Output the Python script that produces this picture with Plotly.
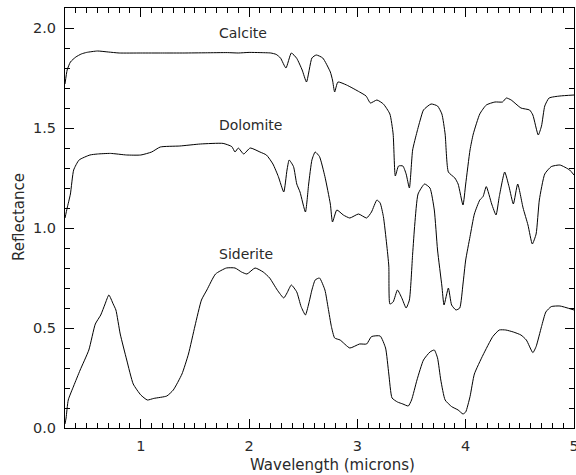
import plotly.graph_objects as go

calcite_x = [0.30,0.32,0.35,0.40,0.45,0.50,0.60,0.70,0.80,1.00,1.20,1.40,1.60,1.80,1.90,2.00,2.10,2.20,2.25,2.29,2.34,2.39,2.44,2.49,2.53,2.58,2.62,2.68,2.75,2.77,2.79,2.82,2.90,3.02,3.08,3.12,3.18,3.24,3.30,3.33,3.35,3.38,3.42,3.45,3.48,3.51,3.55,3.58,3.61,3.68,3.74,3.78,3.81,3.84,3.90,3.93,3.975,4.0,4.04,4.07,4.13,4.19,4.27,4.34,4.375,4.42,4.51,4.59,4.62,4.67,4.70,4.73,4.77,4.87,5.0]
calcite_y = [1.72,1.79,1.83,1.855,1.87,1.878,1.885,1.88,1.875,1.875,1.875,1.875,1.876,1.877,1.875,1.878,1.877,1.875,1.868,1.85,1.80,1.875,1.848,1.79,1.73,1.85,1.865,1.85,1.78,1.74,1.68,1.73,1.715,1.68,1.66,1.625,1.64,1.62,1.57,1.47,1.26,1.31,1.31,1.27,1.20,1.39,1.48,1.54,1.59,1.62,1.61,1.57,1.47,1.28,1.25,1.22,1.115,1.22,1.39,1.47,1.57,1.615,1.63,1.63,1.65,1.64,1.60,1.59,1.565,1.465,1.51,1.61,1.65,1.66,1.665]

dolomite_x = [0.30,0.32,0.35,0.38,0.43,0.53,0.60,0.72,0.87,1.00,1.10,1.18,1.36,1.55,1.76,1.84,1.87,1.90,1.95,2.01,2.10,2.16,2.22,2.27,2.32,2.35,2.37,2.41,2.44,2.47,2.52,2.55,2.58,2.61,2.65,2.70,2.75,2.77,2.81,2.87,2.93,3.01,3.085,3.13,3.18,3.21,3.24,3.27,3.29,3.30,3.33,3.37,3.41,3.45,3.48,3.51,3.53,3.56,3.62,3.67,3.71,3.74,3.78,3.80,3.84,3.87,3.91,3.945,3.975,4.0,4.04,4.08,4.13,4.16,4.19,4.24,4.28,4.31,4.36,4.40,4.44,4.48,4.53,4.575,4.615,4.65,4.68,4.73,4.79,4.87,4.96,5.0]
dolomite_y = [1.05,1.10,1.17,1.29,1.34,1.365,1.37,1.373,1.365,1.365,1.38,1.405,1.41,1.42,1.423,1.407,1.38,1.40,1.37,1.40,1.38,1.365,1.32,1.257,1.18,1.29,1.34,1.307,1.22,1.18,1.08,1.22,1.34,1.38,1.357,1.257,1.12,1.03,1.09,1.065,1.05,1.07,1.05,1.08,1.14,1.125,1.057,0.92,0.81,0.62,0.63,0.69,0.65,0.60,0.64,0.87,1.02,1.17,1.22,1.20,1.09,0.89,0.71,0.615,0.70,0.615,0.59,0.60,0.72,0.84,0.957,1.07,1.14,1.157,1.207,1.12,1.065,1.157,1.28,1.207,1.12,1.22,1.10,1.015,0.92,0.97,1.14,1.27,1.307,1.315,1.29,1.265]

siderite_x = [0.30,0.31,0.33,0.38,0.44,0.52,0.58,0.63,0.67,0.705,0.745,0.77,0.81,0.87,0.93,1.00,1.06,1.12,1.24,1.30,1.38,1.44,1.50,1.56,1.61,1.69,1.79,1.87,1.93,1.98,2.055,2.13,2.19,2.26,2.32,2.35,2.39,2.44,2.48,2.52,2.55,2.58,2.61,2.65,2.70,2.73,2.76,2.79,2.84,2.93,3.02,3.085,3.13,3.21,3.26,3.29,3.32,3.37,3.42,3.47,3.50,3.55,3.61,3.67,3.71,3.74,3.77,3.81,3.87,3.93,3.975,4.0,4.04,4.08,4.16,4.25,4.31,4.37,4.44,4.51,4.56,4.62,4.65,4.70,4.74,4.79,4.87,5.0]
siderite_y = [0.02,0.05,0.14,0.21,0.29,0.39,0.52,0.565,0.62,0.665,0.62,0.59,0.47,0.34,0.22,0.165,0.14,0.148,0.16,0.19,0.27,0.37,0.51,0.64,0.69,0.77,0.80,0.80,0.78,0.77,0.80,0.78,0.75,0.69,0.65,0.675,0.715,0.68,0.607,0.565,0.62,0.69,0.74,0.75,0.69,0.60,0.507,0.45,0.44,0.40,0.42,0.42,0.457,0.46,0.40,0.27,0.15,0.13,0.12,0.11,0.14,0.24,0.34,0.38,0.39,0.35,0.24,0.14,0.107,0.09,0.07,0.08,0.157,0.27,0.365,0.457,0.49,0.49,0.48,0.465,0.44,0.377,0.407,0.507,0.58,0.607,0.61,0.59]

labels = ["Calcite", "Dolomite", "Siderite"]
label_x = [1.70, 1.70, 1.70]
label_y = [1.975, 1.515, 0.87]

x_tickvals = [1, 2, 3, 4, 5]
y_tickvals = [0.0, 0.5, 1.0, 1.5, 2.0]
y_ticktext = ["0.0", "0.5", "1.0", "1.5", "2.0"]

FONT = "DejaVu Sans"
TXT = "#2a2a2a"

fig = go.Figure()
for xs, ys in [(calcite_x, calcite_y), (dolomite_x, dolomite_y), (siderite_x, siderite_y)]:
    fig.add_trace(go.Scatter(x=xs, y=ys, mode="lines",
                             line=dict(color="black", width=1, shape="spline", smoothing=0.5),
                             showlegend=False, hoverinfo="skip"))

for t, lx, ly in zip(labels, label_x, label_y):
    fig.add_annotation(x=lx, y=ly, text=t, showarrow=False, xanchor="left", yanchor="middle",
                       font=dict(family=FONT, size=14, color=TXT))

# axis titles
fig.add_annotation(xref="paper", yref="paper", x=0.5265, y=-0.088, text="Wavelength (microns)",
                   showarrow=False, xanchor="center", yanchor="middle",
                   font=dict(family=FONT, size=15, color=TXT))
fig.add_annotation(xref="paper", yref="paper", x=-0.0894, y=0.5036, text="Reflectance",
                   showarrow=False, xanchor="center", yanchor="middle", textangle=-90,
                   font=dict(family=FONT, size=15, color=TXT))

axis_common = dict(showline=True, linecolor="black", linewidth=1, mirror="allticks",
                   ticks="inside", tickcolor="black", showgrid=False, zeroline=False,
                   automargin=False, ticklabeloverflow="allow",
                   tickfont=dict(family=FONT, size=14.5, color=TXT))

fig.update_xaxes(range=[0.3, 5.0], tickvals=x_tickvals, ticklen=9, ticklabelstandoff=5,
                 minor=dict(ticks="inside", dtick=0.1, tick0=0, ticklen=5, tickcolor="black", showgrid=False),
                 **axis_common)
fig.update_yaxes(range=[0.0, 2.1], tickvals=y_tickvals, ticktext=y_ticktext, ticklen=9, ticklabelstandoff=5,
                 minor=dict(ticks="inside", dtick=0.1, tick0=0, ticklen=5, tickcolor="black", showgrid=False),
                 **axis_common)

fig.update_layout(width=576, height=475, margin=dict(l=65, r=2, t=8, b=47),
                  plot_bgcolor="white", paper_bgcolor="white")

fig.write_html("out.html", config={"displayModeBar": False},
               post_script="document.body.style.margin='0';document.body.style.overflow='hidden';")
